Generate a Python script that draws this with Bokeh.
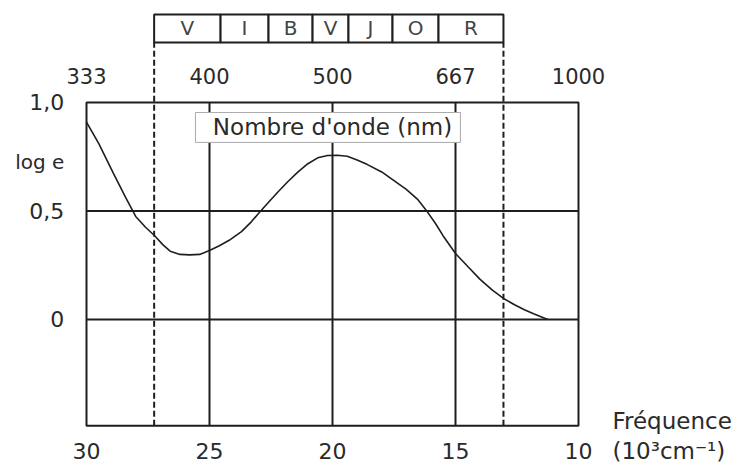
from bokeh.plotting import figure
from bokeh.models import Range1d
from bokeh.core.properties import value
from bokeh.embed import file_html
from bokeh.resources import INLINE

# ---- data ----
freq = [30.0, 29.5, 28.9, 28.4, 28.0, 27.6, 27.24, 26.9, 26.6, 26.2, 25.8, 25.4,
        25.0, 24.6, 24.2, 23.7, 23.3, 23.0, 22.6, 22.2, 21.8, 21.4, 21.0, 20.6,
        20.2, 19.8, 19.4, 19.0, 18.6, 18.0, 17.5, 17.0, 16.55, 16.2, 15.8, 15.5,
        15.0, 14.5, 14.0, 13.5, 13.05, 12.6, 12.2, 11.8, 11.25]
loge = [0.91, 0.81, 0.672, 0.56, 0.475, 0.425, 0.387, 0.345, 0.315, 0.30, 0.298, 0.30,
        0.318, 0.34, 0.365, 0.405, 0.45, 0.49, 0.54, 0.59, 0.637, 0.68, 0.718, 0.745,
        0.756, 0.757, 0.752, 0.735, 0.715, 0.68, 0.64, 0.60, 0.555, 0.505, 0.44, 0.385,
        0.304, 0.244, 0.185, 0.135, 0.097, 0.068, 0.045, 0.025, 0.0]

x_ticks = [30, 25, 20, 15, 10]
x_tick_labels = ["30", "25", "20", "15", "10"]
wl_labels = ["333", "400", "500", "667", "1000"]
y_ticks = [1.0, 0.5, 0.0]
y_tick_labels = ["1,0", "0,5", "0"]
colour_names = ["V", "I", "B", "V", "J", "O", "R"]
colour_edges = [27.25, 24.55, 22.60, 20.81, 19.35, 17.56, 15.69, 13.05]

# ---- layout constants ----
X0, X1 = 30, 10          # frame in data units
Y0, Y1 = -0.49, 1.0
BAND_LO, BAND_HI = 1.276, 1.406
INK = "#1e1e1e"
TXT = "#2a2a2a"
FONT = value("DejaVu Sans")

p = figure(width=739, height=465, output_backend="svg", toolbar_location=None,
           x_range=Range1d(33.496, 3.455), y_range=Range1d(-0.6728, 1.470),
           x_axis_location=None, y_axis_location=None, min_border=0,
           outline_line_color=None)
p.xgrid.visible = False
p.ygrid.visible = False
p.background_fill_color = "white"
p.border_fill_color = "white"

# grid lines
p.segment(x0=[X0] * 2, x1=[X1] * 2, y0=[0.0, 0.5], y1=[0.0, 0.5], line_color=INK, line_width=2)
p.segment(x0=x_ticks[1:4], x1=x_ticks[1:4], y0=[Y0] * 3, y1=[Y1] * 3, line_color=INK, line_width=2)

# dashed limits of visible spectrum
vis = [colour_edges[0], colour_edges[-1]]
p.segment(x0=vis, x1=vis, y0=[Y0] * 2, y1=[BAND_LO] * 2, line_color=INK, line_width=2,
          line_dash="6 3")

# frame
p.quad(left=[X0], right=[X1], bottom=[Y0], top=[Y1], fill_color=None, line_color=INK, line_width=2)

# curve
p.line(freq, loge, line_color=INK, line_width=1.6)

# legend-like box
p.quad(left=[25.57], right=[14.80], bottom=[0.816], top=[0.954], fill_color="white",
       line_color="#aaaaaa", line_width=1)
p.text(x=[20.0], y=[0.885], text=["Nombre d'onde (nm)"], text_font=FONT,
       text_font_size="23px", text_align="center", text_baseline="middle", text_color=TXT)

# colour band
p.quad(left=colour_edges[:-1], right=colour_edges[1:], bottom=[BAND_LO] * 7, top=[BAND_HI] * 7,
       fill_color="white", line_color=INK, line_width=2)
centers = [(a + b) / 2 for a, b in zip(colour_edges[:-1], colour_edges[1:])]
p.text(x=centers, y=[(BAND_LO + BAND_HI) / 2] * 7, text=colour_names, text_font=FONT,
       text_font_size="20px", text_align="center", text_baseline="middle", text_color="#444444")

# top wavelength labels
p.text(x=x_ticks, y=[1.12] * 5, text=wl_labels, text_font=FONT, text_font_size="21px",
       text_align="center", text_baseline="middle", text_color=TXT)

# bottom frequency labels
p.text(x=x_ticks, y=[-0.606] * 5, text=x_tick_labels, text_font=FONT, text_font_size="22px",
       text_align="center", text_baseline="middle", text_color=TXT)

# y labels
p.text(x=[30.9] * 3, y=y_ticks, text=y_tick_labels, text_font=FONT, text_font_size="22px",
       text_align="right", text_baseline="middle", text_color=TXT)
p.text(x=[30.9], y=[0.724], text=["log e"], text_font=FONT, text_font_size="20px",
       text_align="right", text_baseline="middle", text_color=TXT)

# axis title
p.text(x=[8.62, 8.62], y=[-0.47, -0.606], text=["Fréquence", "(10³cm⁻¹)"], text_font=FONT,
       text_font_size="23px", text_align="left", text_baseline="middle", text_color=TXT)

open("out.html", "w").write(file_html(p, INLINE))
